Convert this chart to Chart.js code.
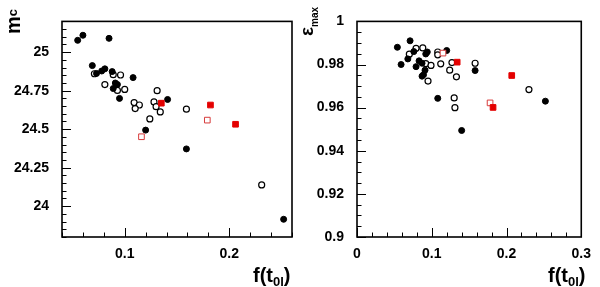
<!DOCTYPE html>
<html>
<head>
<meta charset="utf-8">
<script src="https://cdn.jsdelivr.net/npm/chart.js@4/dist/chart.umd.min.js"></script>
<style>
  body { margin: 0; background: #fff; }
  #wrap { position: relative; width: 600px; height: 287px; }
  canvas { position: absolute; top: 0; }
</style>
</head>
<body>
<div id="wrap">
  <canvas id="leftChart" width="300" height="287" style="left:0"></canvas>
  <canvas id="rightChart" width="300" height="287" style="left:300px"></canvas>
</div>
<script>
// left panel: m_c against f(t0l)
const mcFilledX = [0.055, 0.060, 0.085, 0.069, 0.073, 0.078, 0.081, 0.088, 0.108, 0.091, 0.093, 0.089, 0.095, 0.141, 0.120, 0.159, 0.252];
const mcFilledY = [25.077, 25.11, 25.09, 24.913, 24.862, 24.878, 24.892, 24.874, 24.835, 24.80, 24.79, 24.764, 24.70, 24.693, 24.494, 24.372, 23.915];
const mcOpenX = [0.071, 0.081, 0.089, 0.096, 0.093, 0.100, 0.109, 0.114, 0.110, 0.124, 0.131, 0.128, 0.130, 0.134, 0.159, 0.231];
const mcOpenY = [24.86, 24.79, 24.854, 24.852, 24.752, 24.758, 24.673, 24.657, 24.634, 24.567, 24.75, 24.677, 24.646, 24.612, 24.63, 24.138];
const mcRedX = [0.135, 0.182, 0.206];
const mcRedY = [24.669, 24.657, 24.532];
const mcRedOpenX = [0.116, 0.179];
const mcRedOpenY = [24.451, 24.559];

// right panel: eps_max against f(t0l)
const epsFilledX = [0.054, 0.071, 0.059, 0.068, 0.076, 0.079, 0.083, 0.087, 0.087, 0.089, 0.091, 0.092, 0.094, 0.108, 0.120, 0.158, 0.140, 0.252];
const epsFilledY = [0.988, 0.991, 0.980, 0.9826, 0.986, 0.979, 0.9817, 0.9806, 0.9746, 0.9753, 0.9774, 0.9849, 0.9858, 0.9643, 0.9865, 0.9772, 0.9494, 0.963];
const epsOpenX = [0.070, 0.079, 0.088, 0.092, 0.099, 0.095, 0.108, 0.108, 0.112, 0.127, 0.124, 0.133, 0.130, 0.131, 0.158, 0.230];
const epsOpenY = [0.9848, 0.9875, 0.9877, 0.9804, 0.9796, 0.9723, 0.9858, 0.9845, 0.9803, 0.9809, 0.9774, 0.9743, 0.9645, 0.960, 0.9806, 0.9684];
const epsRedX = [0.134, 0.207, 0.182];
const epsRedY = [0.9811, 0.9749, 0.9601];
const epsRedOpenX = [0.115, 0.178];
const epsRedOpenY = [0.9853, 0.9622];

// tick labels
const mcXTicks = [0.1, 0.2];
const mcYTicks = [24, 24.25, 24.5, 24.75, 25];
const epsXTicks = [0, 0.1, 0.2, 0.3];
const epsYTicks = [0.9, 0.92, 0.94, 0.96, 0.98, 1];

const FONT = '"Liberation Sans", Arial, Helvetica, sans-serif';
const RED = 'rgb(228,0,0)';

function pts(xs, ys) {
  return xs.map((x, i) => ({ x: x, y: ys[i] }));
}

function makeDatasets(fx, fy, ox, oy, rx, ry, rox, roy) {
  return [
    { data: pts(rx, ry), pointStyle: 'rect', pointRadius: 4, backgroundColor: RED, borderColor: RED, borderWidth: 1 },
    { data: pts(rox, roy), pointStyle: 'rect', pointRadius: 4, backgroundColor: '#fff', borderColor: 'rgb(215,60,60)', borderWidth: 1 },
    { data: pts(fx, fy), pointStyle: 'circle', pointRadius: 3, backgroundColor: '#000', borderColor: '#000', borderWidth: 1 },
    { data: pts(ox, oy), pointStyle: 'circle', pointRadius: 3, backgroundColor: '#fff', borderColor: '#000', borderWidth: 1.2 }
  ];
}

// draws a string made of parts, some of them subscripts
function drawParts(ctx, parts) {
  let x = 0;
  parts.forEach(p => {
    ctx.font = 'bold ' + p.size + 'px ' + FONT;
    ctx.fillText(p.text, x, p.dy || 0);
    x += ctx.measureText(p.text).width;
  });
}

// frame, inner tick marks and axis titles
function framePlugin(opt) {
  return {
    id: 'frame',
    afterDraw(chart) {
      const ctx = chart.ctx;
      const a = chart.chartArea;
      const xs = chart.scales.x, ys = chart.scales.y;
      ctx.save();
      ctx.strokeStyle = '#000';
      ctx.lineWidth = 1;
      ctx.beginPath();
      const near = (v, list) => list.some(t => Math.abs(t - v) < 1e-9);
      for (let i = Math.ceil(xs.min / opt.xMinor - 1e-6); i * opt.xMinor <= xs.max + 1e-9; i++) {
        const v = i * opt.xMinor;
        const len = near(v, opt.xMajor) ? 9 : 4.5;
        const px = Math.round(xs.getPixelForValue(v)) + 0.5;
        ctx.moveTo(px, a.bottom);
        ctx.lineTo(px, a.bottom - len);
      }
      for (let i = Math.ceil(ys.min / opt.yMinor - 1e-6); i * opt.yMinor <= ys.max + 1e-9; i++) {
        const v = i * opt.yMinor;
        const len = near(v, opt.yMajor) ? 9 : 4.5;
        const py = Math.round(ys.getPixelForValue(v)) + 0.5;
        ctx.moveTo(a.left, py);
        ctx.lineTo(a.left + len, py);
      }
      ctx.stroke();
      ctx.lineWidth = 1.6;
      ctx.strokeRect(a.left, a.top, a.right - a.left, a.bottom - a.top);

      ctx.fillStyle = '#000';
      ctx.textBaseline = 'alphabetic';
      ctx.textAlign = 'left';
      // x title
      ctx.save();
      ctx.translate(opt.xTitlePos[0], opt.xTitlePos[1]);
      drawParts(ctx, [
        { text: 'f(t', size: 20 },
        { text: '0l', size: 13, dy: 4 },
        { text: ')', size: 20 }
      ]);
      ctx.restore();
      // y title, rotated
      ctx.save();
      ctx.translate(opt.yTitlePos[0], opt.yTitlePos[1]);
      ctx.rotate(-Math.PI / 2);
      drawParts(ctx, opt.yTitle);
      ctx.restore();
      ctx.restore();
    }
  };
}

function makeChart(id, datasets, xr, yr, xTicks, yTicks, yWidth, rightPad, plugin) {
  const tickFont = { family: FONT, size: 14, weight: 'bold' };
  return new Chart(document.getElementById(id), {
    type: 'scatter',
    data: { datasets: datasets },
    options: {
      responsive: false,
      animation: false,
      events: [],
      layout: { padding: { top: 7, right: rightPad, left: 0, bottom: 0 } },
      plugins: { legend: { display: false }, tooltip: { enabled: false } },
      scales: {
        x: {
          type: 'linear', min: xr[0], max: xr[1],
          grid: { display: false, drawTicks: false },
          border: { display: false },
          afterBuildTicks: s => { s.ticks = xTicks.map(v => ({ value: v })); },
          afterFit: s => { s.height = 50; },
          ticks: { color: '#000', font: tickFont, padding: 9, maxRotation: 0, autoSkip: false, callback: v => String(v) }
        },
        y: {
          type: 'linear', min: yr[0], max: yr[1],
          grid: { display: false, drawTicks: false },
          border: { display: false },
          afterBuildTicks: s => { s.ticks = yTicks.map(v => ({ value: v })); },
          afterFit: s => { s.width = yWidth; },
          ticks: { color: '#000', font: tickFont, padding: 13, autoSkip: false, callback: v => String(v) }
        }
      }
    },
    plugins: [plugin]
  });
}

makeChart('leftChart',
  makeDatasets(mcFilledX, mcFilledY, mcOpenX, mcOpenY, mcRedX, mcRedY, mcRedOpenX, mcRedOpenY),
  [0.04, 0.26], [23.8, 25.2], mcXTicks, mcYTicks, 62, 8,
  framePlugin({
    xMinor: 0.02, yMinor: 0.05, xMajor: mcXTicks, yMajor: mcYTicks,
    xTitlePos: [253, 282], yTitlePos: [20, 34],
    yTitle: [{ text: 'm', size: 20 }, { text: 'c', size: 13, dy: -3 }]
  }));

makeChart('rightChart',
  makeDatasets(epsFilledX, epsFilledY, epsOpenX, epsOpenY, epsRedX, epsRedY, epsRedOpenX, epsRedOpenY),
  [0, 0.3], [0.9, 1], epsXTicks, epsYTicks, 57, 13,
  framePlugin({
    xMinor: 0.02, yMinor: 0.005, xMajor: epsXTicks, yMajor: epsYTicks,
    xTitlePos: [248, 282], yTitlePos: [13, 36],
    yTitle: [{ text: 'ε', size: 19 }, { text: 'max', size: 10, dy: 5 }]
  }));
</script>
</body>
</html>
